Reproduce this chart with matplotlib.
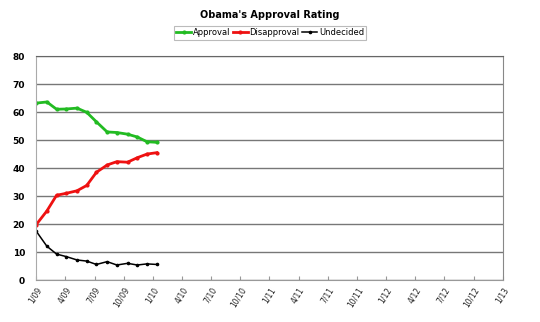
import matplotlib.pyplot as plt

# months since 1/09
months = [0, 1.1, 2.1, 3.1, 4.2, 5.2, 6.2, 7.3, 8.3, 9.4, 10.4, 11.4, 12.4]
approval = [63.2, 63.6, 61.0, 61.1, 61.4, 59.9, 56.5, 52.9, 52.7, 52.1, 51.1, 49.4, 49.2]
disapproval = [19.8, 24.7, 30.3, 31.0, 31.9, 33.8, 38.5, 41.1, 42.3, 42.1, 43.7, 45.0, 45.5]
undecided = [17.5, 12.1, 9.3, 8.4, 7.2, 6.8, 5.6, 6.6, 5.4, 6.0, 5.4, 5.8, 5.6]

tick_pos = [0, 3, 6, 9, 12, 15, 18, 21, 24, 27, 30, 33, 36, 39, 42, 45, 48]
tick_labels = ['1/09', '4/09', '7/09', '10/09', '1/10', '4/10', '7/10', '10/10',
               '1/11', '4/11', '7/11', '10/11', '1/12', '4/12', '7/12', '10/12', '1/13']

plt.rcParams['font.family'] = 'DejaVu Sans'

fig = plt.figure(figsize=(5.4, 3.22), dpi=100)
ax = fig.add_axes([0.067, 0.130, 0.864, 0.696])

ax.plot(months, approval, color='#22bb22', lw=2, marker='o', ms=2, label='Approval')
ax.plot(months, disapproval, color='#ee1111', lw=2, marker='o', ms=2, label='Disapproval')
ax.plot(months, undecided, color='black', lw=1.1, marker='o', ms=1.6, label='Undecided')

ax.set_xlim(0, 48)
ax.set_ylim(0, 80)
ax.set_yticks(range(0, 81, 10))
ax.set_xticks(tick_pos)
ax.set_xticklabels(tick_labels, rotation=58, ha='right', rotation_mode='anchor',
                   fontsize=5.5, color='#222222')
ax.tick_params(axis='y', labelsize=6.5, length=0, pad=8)
ax.tick_params(axis='x', direction='in', length=3, color='#999999', pad=4)
for lbl in ax.get_yticklabels():
    lbl.set_fontweight('bold')

ax.grid(axis='y', color='#777777', lw=1)
ax.set_axisbelow(True)
ax.spines['left'].set_color('#aaaaaa')
ax.spines['bottom'].set_color('#999999')
ax.spines['right'].set_color('#888888')
ax.spines['top'].set_color('#666666')

fig.text(0.5, 0.953, "Obama's Approval Rating", ha='center', va='center',
         fontsize=7, fontweight='bold')
leg = fig.legend(loc='center', bbox_to_anchor=(0.5, 0.898), ncol=3, fontsize=6,
                 frameon=True, fancybox=False, edgecolor='#aaaaaa', handlelength=1.8,
                 handletextpad=0.2, columnspacing=0.3, borderpad=0.3)
leg.get_frame().set_linewidth(0.8)

fig.savefig('out.png', dpi=100)
